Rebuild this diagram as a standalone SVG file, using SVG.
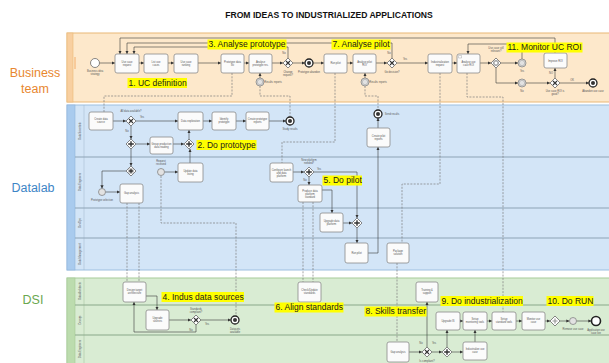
<svg xmlns="http://www.w3.org/2000/svg" width="609" height="363" viewBox="0 0 609 363">
<defs>
<style>
text{font-family:"Liberation Sans",Arial,sans-serif}
.title{font-size:8.6px;font-weight:bold;fill:#111;text-anchor:middle}
.pl{font-size:12.5px;text-anchor:middle}
.hl{fill:#ffff00}
.ht{font-size:8.5px;fill:#1a1a1a}
.t rect{fill:#fbfbfb;stroke:#8a8a8a;stroke-width:.8}
.t text,.tx{font-size:2.6px;fill:#555;text-anchor:middle}
.f{fill:none;stroke:#3a3a3a;stroke-width:.6;marker-end:url(#ar)}
.m{fill:none;stroke:#7d7d7d;stroke-width:.7;stroke-dasharray:2 1.3}
.lane{stroke:#8ea3b6;stroke-width:1.2}
.dg{fill:#fff;stroke:#555;stroke-width:.7}
.gx{fill:none;stroke:#333;stroke-width:1.1}
.gp{fill:none;stroke:#333;stroke-width:1.4}
.ev{fill:#fff;stroke:#555;stroke-width:.7}
.ie{fill:#e2e2e2;stroke:#777;stroke-width:.7}
.ee{fill:#fff;stroke:#222;stroke-width:1.3}
.lh{font-size:2.6px;fill:#555;text-anchor:middle}
</style>
<marker id="ar" viewBox="0 0 6 6" refX="6" refY="3" markerUnits="userSpaceOnUse" markerWidth="3.2" markerHeight="3.2" orient="auto"><path d="M0,0L6,3L0,6z" fill="#333"/></marker>
<path id="dia" d="M0,-5L5,0L0,5L-5,0Z"/>
</defs>
<rect width="609" height="363" fill="#fff"/>
<text class="title" x="329" y="18">FROM IDEAS TO INDUSTRIALIZED APPLICATIONS</text>

<!-- pools -->
<g id="pool-business">
<rect x="67" y="33" width="545" height="69" fill="#fde8cb" stroke="#e9b877" stroke-width="1"/>
<rect x="67" y="33" width="6" height="69" fill="#f8cfa0" stroke="#e9b877" stroke-width=".6"/>
<line x1="75" y1="57" x2="75" y2="69" stroke="#f0a050" stroke-width=".8"/>
<text class="pl" x="35" y="77" fill="#e8872f">Business</text>
<text class="pl" x="35" y="93" fill="#e8872f">team</text>
</g>
<g id="pool-datalab">
<rect x="67" y="105" width="545" height="165" fill="#d3e5f7" stroke="#9dbfe0" stroke-width="1"/>
<rect x="67" y="105" width="8" height="165" fill="#a9cbee" stroke="#8fb4da" stroke-width=".6"/>
<line x1="84" y1="105" x2="84" y2="270" stroke="#9fb4c8" stroke-width=".5"/>
<line class="lane" x1="75" y1="157" x2="612" y2="157"/>
<line class="lane" x1="75" y1="208" x2="612" y2="208"/>
<line class="lane" x1="75" y1="238" x2="612" y2="238"/>
<text class="lh" transform="translate(80.5 131) rotate(-90)">Data Scientists</text>
<text class="lh" transform="translate(80.5 182) rotate(-90)">Data Engineers</text>
<text class="lh" transform="translate(80.5 223) rotate(-90)">DevOps</text>
<text class="lh" transform="translate(80.5 254) rotate(-90)">Data Management</text>
<text class="pl" x="33" y="192" fill="#3d85c6">Datalab</text>
</g>
<g id="pool-dsi">
<rect x="67" y="278" width="545" height="90" fill="#d9ecd3" stroke="#a8cc9a" stroke-width="1"/>
<rect x="67" y="278" width="8" height="90" fill="#bcdcae" stroke="#a3c894" stroke-width=".6"/>
<line x1="84" y1="278" x2="84" y2="363" stroke="#9fbf94" stroke-width=".5"/>
<line x1="75" y1="305" x2="612" y2="305" stroke="#8aa88a" stroke-width="1.2"/>
<line x1="75" y1="335" x2="612" y2="335" stroke="#8aa88a" stroke-width="1.2"/>
<text class="lh" transform="translate(80.5 291) rotate(-90)">Data Architects</text>
<text class="lh" transform="translate(80.5 320) rotate(-90)">Devops</text>
<text class="lh" transform="translate(80.5 349) rotate(-90)">Data Engineers</text>
<text class="pl" x="33" y="304" fill="#6aa84f">DSI</text>
</g>

<!-- connectors -->
<g id="connectors">
<g id="sequence-flows">
<path class="f" d="M99.5,63H115"/>
<path class="f" d="M139,63H144"/>
<path class="f" d="M168,63H174"/>
<path class="f" d="M198,63H221"/>
<path class="f" d="M244,63H249"/>
<path class="f" d="M272,63H283"/>
<path class="f" d="M293,63H305"/>
<path class="f" d="M313,63H324"/>
<path class="f" d="M347,63H353"/>
<path class="f" d="M376,63H387"/>
<path class="f" d="M397,63H428"/>
<path class="f" d="M452,63H457"/>
<path class="f" d="M480,63H491"/>
<path class="f" d="M501,63H518"/>
<path class="f" d="M496,68V83H518"/>
<path class="f" d="M526,83H550"/>
<path class="f" d="M560,83H589"/>
<path class="f" d="M555,78V68"/>
<path class="f" d="M555,53V38H120V54"/>
<path class="f" d="M392,58V43H127V54"/>
<path class="f" d="M288,58V47H134V54"/>
<path class="f" d="M522,59V44H468V54"/>
<path class="f" d="M260,78V73"/>
<path class="f" d="M365,78V73"/>

<path class="f" d="M113,121H126"/>
<path class="f" d="M136,121H178"/>
<path class="f" d="M131,126V139"/>
<path class="f" d="M136,144H150"/>
<path class="f" d="M173,144H184"/>
<path class="f" d="M189,139V130"/>
<path class="f" d="M203,121H212"/>
<path class="f" d="M236,121H246"/>
<path class="f" d="M269,121H286"/>
<path class="f" d="M131,149V166"/>
<path class="f" d="M126,171H102V188.5"/>
<path class="f" d="M105.5,192H120"/>
<path class="f" d="M164.5,172H178"/>
<path class="f" d="M190,163V149"/>
<path class="f" d="M293,172H304"/>
<path class="f" d="M314,172H357V218"/>
<path class="f" d="M309,177V185"/>
<path class="f" d="M322,190H332V213"/>
<path class="f" d="M343,223H352"/>
<path class="f" d="M357,228V243"/>
<path class="f" d="M368,253H378V147"/>
<path class="f" d="M378,128V118"/>

<path class="f" d="M146,296H157V310"/>
<path class="f" d="M169,320H191"/>
<path class="f" d="M201,320H231"/>
<path class="f" d="M196,325V332H134V302"/>
<path class="f" d="M409,352H422"/>
<path class="f" d="M427,347V302"/>
<path class="f" d="M432,352H442"/>
<path class="f" d="M447,347V330"/>
<path class="f" d="M452,352H463"/>
<path class="f" d="M475,342V330"/>
<path class="f" d="M460,321H463"/>
<path class="f" d="M487,321H492"/>
<path class="f" d="M516,321H522"/>
<path class="f" d="M545,321H550"/>
<path class="f" d="M560,321H569.5"/>
<path class="f" d="M576.5,321H591.5"/>
</g>
<g id="message-flows">
<path class="m" d="M232,73V96H104V112"/>
<path class="m" d="M260,86V96H290V117"/>
<path class="m" d="M335,73V142H282V163"/>
<path class="m" d="M365,86V96H378V110"/>
<path class="m" d="M440,73V184H402V243"/>
<path class="m" d="M467,73V97H503V312"/>
<path class="m" d="M127,203V282"/>
<path class="m" d="M139,203V282"/>
<path class="m" d="M161,176V223H236V316"/>
<path class="m" d="M303,202V282"/>
<path class="m" d="M313,202V282"/>
<path class="m" d="M397,263V342"/>
</g>
</g>

<!-- business nodes -->
<g id="start-idea"><circle class="ev" cx="95" cy="63" r="4.5"/><text class="tx" x="95" y="72">Business idea</text><text class="tx" x="95" y="75">strategy</text></g>
<g id="t1" class="t"><rect x="115" y="54" width="24" height="19" rx="2"/><text x="127" y="62.5">Use case</text><text x="127" y="65.5">request</text></g>
<g id="t2" class="t"><rect x="144" y="54" width="24" height="19" rx="2"/><text x="156" y="62.5">List use</text><text x="156" y="65.5">cases</text></g>
<g id="t3" class="t"><rect x="174" y="54" width="24" height="19" rx="2"/><text x="186" y="62.5">Use case</text><text x="186" y="65.5">ranking</text></g>
<g id="t4" class="t"><rect x="221" y="54" width="23" height="19" rx="2"/><text x="232.5" y="62.5">Prototype data</text><text x="232.5" y="65.5">list</text></g>
<g id="t5" class="t"><rect x="249" y="54" width="23" height="19" rx="2"/><text x="260.5" y="62.5">Analyse</text><text x="260.5" y="65.5">prototype res.</text></g>
<g id="ev-t5"><circle class="ie" cx="260" cy="82" r="4"/><circle cx="260" cy="82" r="2.7" fill="none" stroke="#888" stroke-width=".4"/><text class="tx" x="273" y="83">Results reports</text></g>
<g id="gw1"><use href="#dia" x="288" y="63" class="dg"/><path class="gx" d="M286,61L290,65M290,61L286,65"/><text class="tx" x="284" y="54">No</text><text class="tx" x="288" y="72.5">Change</text><text class="tx" x="288" y="75.5">request?</text></g>
<g id="end-proto"><circle class="ee" cx="309" cy="63" r="4"/><circle cx="309" cy="63" r="2" fill="#333"/><text class="tx" x="309" y="72.5">Prototype abandon</text></g>
<g id="t6" class="t"><rect x="324" y="54" width="23" height="19" rx="2"/><text x="335.5" y="64">Run pilot</text></g>
<g id="t7" class="t"><rect x="353" y="54" width="23" height="19" rx="2"/><text x="364.5" y="62.5">Analyse pilot</text><text x="364.5" y="65.5">ROI</text></g>
<g id="ev-t7"><circle class="ie" cx="365" cy="82" r="4"/><circle cx="365" cy="82" r="2.7" fill="none" stroke="#888" stroke-width=".4"/><text class="tx" x="378" y="83">Results reports</text></g>
<g id="gw2"><use href="#dia" x="392" y="63" class="dg"/><path class="gx" d="M390,61L394,65M394,61L390,65"/><text class="tx" x="389" y="54">No</text><text class="tx" x="405" y="60">Yes</text><text class="tx" x="392" y="72.5">Go decision?</text></g>
<g id="t8" class="t"><rect x="428" y="54" width="24" height="19" rx="2"/><text x="440" y="62.5">Industrialization</text><text x="440" y="65.5">request</text></g>
<g id="t9" class="t"><rect x="457" y="54" width="23" height="19" rx="2"/><path d="M458.5,55.5h3v2.5h-3z" fill="none" stroke="#777" stroke-width=".3"/><text x="468.5" y="62.5">Analyse use</text><text x="468.5" y="65.5">case ROI</text></g>
<g id="gw3"><use href="#dia" x="496" y="63" class="dg"/><circle cx="496" cy="63" r="2.6" fill="none" stroke="#555" stroke-width=".5"/><circle cx="496" cy="63" r="1.8" fill="none" stroke="#555" stroke-width=".4"/><text class="tx" x="496" y="49">Use case still</text><text class="tx" x="496" y="52">relevant?</text></g>
<g id="ev-yes"><circle class="ie" cx="522" cy="63" r="4"/><circle cx="522" cy="63" r="2.7" fill="none" stroke="#888" stroke-width=".4"/><text class="tx" x="522" y="72">Yes</text></g>
<g id="ev-no"><circle class="ie" cx="522" cy="83" r="4"/><circle cx="522" cy="83" r="2.7" fill="none" stroke="#888" stroke-width=".4"/><text class="tx" x="522" y="92">No</text></g>
<g id="t10" class="t"><rect x="544" y="53" width="23" height="15" rx="2"/><text x="555.5" y="61.5">Improve ROI</text></g>
<g id="gw4"><use href="#dia" x="555" y="83" class="dg"/><path class="gx" d="M553,81L557,85M557,81L553,85"/><text class="tx" x="551" y="74">NO</text><text class="tx" x="572" y="80.5">OK</text><text class="tx" x="555" y="92">Use case ROI is</text><text class="tx" x="555" y="95">good?</text></g>
<g id="end-abandon"><circle class="ee" cx="593" cy="83" r="4"/><circle cx="593" cy="83" r="2" fill="#333"/><text class="tx" x="593" y="92">Abandon use case</text></g>

<!-- datalab nodes -->
<g id="d-a" class="t"><rect x="89" y="112" width="24" height="18" rx="2"/><text x="101" y="120">Create data</text><text x="101" y="123">source</text></g>
<g id="gw-a"><use href="#dia" x="131" y="121" class="dg"/><path class="gx" d="M129,119L133,123M133,119L129,123"/><text class="tx" x="131" y="112">All data available?</text><text class="tx" x="142" y="118">Yes</text><text class="tx" x="127" y="132">No</text></g>
<g id="d-b" class="t"><rect x="178" y="112" width="25" height="18" rx="2"/><text x="190.5" y="122">Data exploration</text></g>
<g id="d-c" class="t"><rect x="212" y="112" width="24" height="18" rx="2"/><text x="224" y="120">Identify</text><text x="224" y="123">prototype</text></g>
<g id="d-d" class="t"><rect x="246" y="112" width="23" height="18" rx="2"/><text x="257.5" y="120">Create prototype</text><text x="257.5" y="123">reports</text></g>
<g id="end-study"><circle class="ee" cx="290" cy="121" r="4"/><circle cx="290" cy="121" r="2" fill="#333"/><text class="tx" x="290" y="130">Study results</text></g>
<g id="gw-p1"><use href="#dia" x="131" y="144" class="dg"/><path class="gp" d="M131,141.2V146.8M128.2,144H133.8"/></g>
<g id="d-f" class="t"><rect x="150" y="137" width="23" height="17" rx="2"/><text x="161.5" y="144.5">Group production</text><text x="161.5" y="147.5">data reading</text></g>
<g id="gw-p2"><use href="#dia" x="189" y="144" class="dg"/><path class="gp" d="M189,141.2V146.8M186.2,144H191.8"/></g>
<g id="end-send"><circle class="ee" cx="378" cy="114" r="4"/><circle cx="378" cy="114" r="2" fill="#333"/><text class="tx" x="392" y="115">Send results</text></g>
<g id="d-g" class="t"><rect x="367" y="128" width="23" height="19" rx="2"/><text x="378.5" y="136.5">Create pilot</text><text x="378.5" y="139.5">reports</text></g>
<g id="gw-l2"><use href="#dia" x="131" y="171" class="dg"/><circle cx="131" cy="171" r="2.6" fill="none" stroke="#555" stroke-width=".4"/><path class="gp" d="M131,169V173M129,171H133" stroke-width="1"/></g>
<g id="ev-sel"><circle class="ie" cx="102" cy="192" r="3.5"/><text class="tx" x="102" y="201">Prototype selection</text></g>
<g id="d-h" class="t"><rect x="120" y="184" width="23" height="19" rx="2"/><text x="131.5" y="194">Gap analysis</text></g>
<g id="ev-req"><circle class="ie" cx="161" cy="172" r="3.5"/><text class="tx" x="161" y="162">Request</text><text class="tx" x="161" y="165">received</text></g>
<g id="d-i" class="t"><rect x="178" y="163" width="25" height="19" rx="2"/><text x="190.5" y="171.5">Update data</text><text x="190.5" y="174.5">listing</text></g>
<g id="d-j" class="t"><rect x="270" y="163" width="23" height="19" rx="2"/><text x="281.5" y="170.5">Configure launch</text><text x="281.5" y="173.5">and data</text><text x="281.5" y="176.5">platform</text></g>
<g id="gw-np"><use href="#dia" x="309" y="172" class="dg"/><path class="gp" d="M309,169.2V174.8M306.2,172H311.8"/><text class="tx" x="309" y="161">New platform</text><text class="tx" x="309" y="164">needed?</text><text class="tx" x="319" y="169.5">Yes</text><text class="tx" x="305" y="181">No</text></g>
<g id="d-k" class="t"><rect x="298" y="185" width="24" height="17" rx="2"/><text x="310" y="191.5">Produce data</text><text x="310" y="194.5">platform</text><text x="310" y="197.5">standard</text></g>
<g id="d-l" class="t"><rect x="320" y="213" width="23" height="19" rx="2"/><text x="331.5" y="221.5">Upgrade data</text><text x="331.5" y="224.5">platform</text></g>
<g id="gw-pl3"><use href="#dia" x="357" y="223" class="dg"/><path class="gp" d="M357,220.2V225.8M354.2,223H359.8"/></g>
<g id="d-m" class="t"><rect x="345" y="243" width="23" height="20" rx="2"/><text x="356.5" y="254">Run pilot</text></g>
<g id="d-n" class="t"><rect x="387" y="243" width="22" height="20" rx="2"/><text x="398" y="252">Package</text><text x="398" y="255">solution</text></g>

<!-- DSI nodes -->
<g id="s-o" class="t"><rect x="123" y="282" width="23" height="20" rx="2"/><text x="134.5" y="290.5">Design target</text><text x="134.5" y="293.5">architecture</text></g>
<g id="s-p" class="t"><rect x="146" y="310" width="23" height="20" rx="2"/><text x="157.5" y="319">Upgrade</text><text x="157.5" y="322">sources</text></g>
<g id="gw-sc"><use href="#dia" x="196" y="320" class="dg"/><path class="gx" d="M194,318L198,322M198,318L194,322"/><text class="tx" x="196" y="310">Standards</text><text class="tx" x="196" y="313">compliant?</text><text class="tx" x="207" y="325">Yes</text><text class="tx" x="191" y="331">No</text></g>
<g id="end-datasets"><circle class="ee" cx="235" cy="320" r="4"/><circle cx="235" cy="320" r="2" fill="#333"/><text class="tx" x="235" y="329.5">Datasets</text><text class="tx" x="235" y="332.5">available</text></g>
<g id="s-q" class="t"><rect x="298" y="282" width="23" height="20" rx="2"/><text x="309.5" y="290.5">Check/Update</text><text x="309.5" y="293.5">standards</text></g>
<g id="s-r" class="t"><rect x="416" y="282" width="22" height="20" rx="2"/><text x="427" y="290.5">Training &amp;</text><text x="427" y="293.5">support</text></g>
<g id="s-s" class="t"><rect x="387" y="342" width="22" height="20" rx="2"/><text x="398" y="353">Gap analysis</text></g>
<g id="gw-c"><use href="#dia" x="427" y="352" class="dg"/><path class="gx" d="M425,350L429,354M429,350L425,354"/><text class="tx" x="421" y="343.5">No</text><text class="tx" x="434" y="343.5">Yes</text><text class="tx" x="427" y="361.5">Is compliant?</text></g>
<g id="gw-pp"><use href="#dia" x="447" y="352" class="dg"/><path class="gp" d="M447,349.2V354.8M444.2,352H449.8"/></g>
<g id="s-u1" class="t"><rect x="436" y="312" width="24" height="18" rx="2"/><text x="448" y="322">Upgrade IS</text></g>
<g id="s-u2" class="t"><rect x="463" y="312" width="24" height="18" rx="2"/><text x="475" y="320">Setup</text><text x="475" y="323">monitoring tools</text></g>
<g id="s-u3" class="t"><rect x="492" y="312" width="24" height="18" rx="2"/><text x="504" y="320">Setup</text><text x="504" y="323">standard tools</text></g>
<g id="s-u4" class="t"><rect x="522" y="312" width="23" height="18" rx="2"/><text x="533.5" y="320">Monitor use</text><text x="533.5" y="323">case</text></g>
<g id="s-v" class="t"><rect x="463" y="342" width="24" height="18" rx="2"/><text x="475" y="350">Industrialize use</text><text x="475" y="353">case</text></g>
<g id="gw-end"><use href="#dia" x="555" y="321" class="dg"/><path d="M555,318.5V323.5M552.5,321H557.5" stroke="#999" stroke-width="1.2"/></g>
<g id="ev-remove"><circle class="ie" cx="573" cy="321" r="3.5"/><text class="tx" x="573" y="330">Remove use case</text></g>
<g id="end-live"><circle cx="596" cy="321" r="4.5" fill="#fff" stroke="#222" stroke-width="1.6"/><text class="tx" x="596" y="331">Application use</text><text class="tx" x="596" y="334">case live</text></g>

<!-- highlighted step labels -->
<g id="steps">
<rect class="hl" x="127.5" y="78" width="59.5" height="10"/><text class="ht" x="128.5" y="85.5">1. UC definition</text>
<rect class="hl" x="196.5" y="140" width="60" height="10"/><text class="ht" x="197.5" y="147.5">2. Do prototype</text>
<rect class="hl" x="207.5" y="39.5" width="79" height="10"/><text class="ht" x="208.5" y="47">3. Analyse prototype</text>
<rect class="hl" x="161.5" y="292" width="82.5" height="10"/><text class="ht" x="162.5" y="299.5">4. Indus data sources</text>
<rect class="hl" x="322.5" y="175.5" width="39.5" height="10"/><text class="ht" x="323.5" y="183">5. Do pilot</text>
<rect class="hl" x="274.5" y="302.5" width="69" height="10"/><text class="ht" x="275.5" y="310">6. Align standards</text>
<rect class="hl" x="331.5" y="39.5" width="59" height="10"/><text class="ht" x="332.5" y="47">7. Analyse pilot</text>
<rect class="hl" x="364.5" y="306.5" width="62" height="10"/><text class="ht" x="365.5" y="314">8. Skills transfer</text>
<rect class="hl" x="440.5" y="296" width="82.5" height="10"/><text class="ht" x="441.5" y="303.5">9. Do industrialization</text>
<rect class="hl" x="546.5" y="296" width="47" height="10"/><text class="ht" x="547.5" y="303.5">10. Do RUN</text>
<rect class="hl" x="506.5" y="42.5" width="76" height="10"/><text class="ht" x="507.5" y="50">11. Monitor UC ROI</text>
</g>
</svg>
